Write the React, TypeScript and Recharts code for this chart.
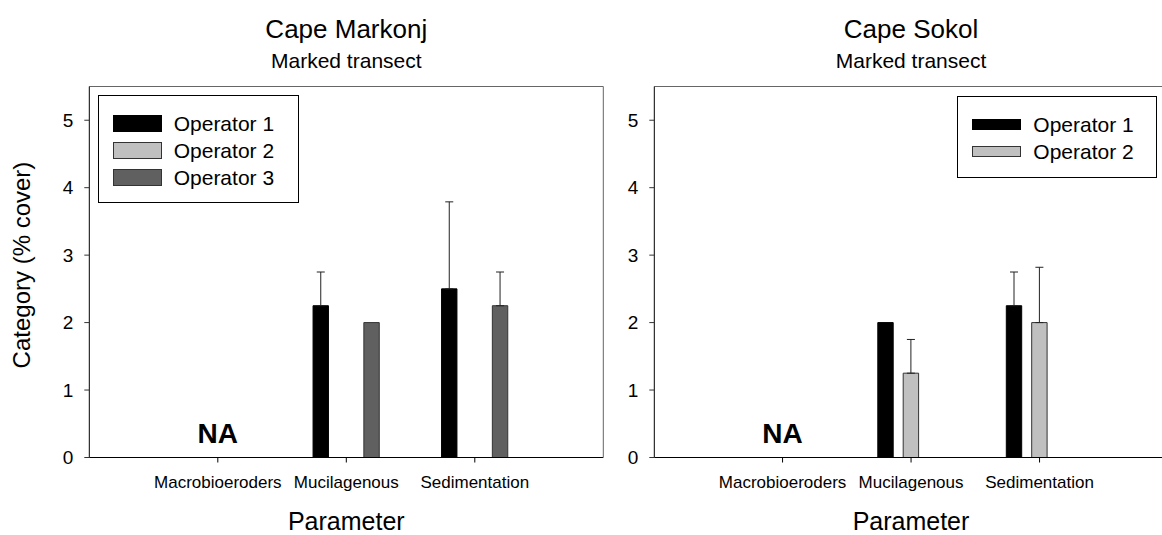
import React from "react";
import { Bar, BarChart, ErrorBar, Legend, ReferenceDot, XAxis, YAxis } from "recharts";

const categories = ["Macrobioeroders", "Mucilagenous", "Sedimentation"];
const yTicks = [0, 1, 2, 3, 4, 5];

// Cape Markonj (null = no bar / no error bar)
const markonjOp1 = [null, 2.25, 2.5];
const markonjOp1Err = [null, 0.5, 1.29];
const markonjOp2 = [null, null, null];
const markonjOp2Err = [null, null, null];
const markonjOp3 = [null, 2.0, 2.25];
const markonjOp3Err = [null, null, 0.5];

// Cape Sokol
const sokolOp1 = [null, 2.0, 2.25];
const sokolOp1Err = [null, null, 0.5];
const sokolOp2 = [null, 1.25, 2.0];
const sokolOp2Err = [null, 0.5, 0.82];
const sokolOp3 = [null, null, null];
const sokolOp3Err = [null, null, null];

const FONT = '"Liberation Sans", Arial, sans-serif';

type Num = number | null;

function buildRows(o1: Num[], e1: Num[], o2: Num[], e2: Num[], o3: Num[], e3: Num[]) {
  const err = (v: Num) => (v == null ? null : [0, v]);
  return categories.map((name, i) => ({
    name,
    op1: o1[i],
    op2: o2[i],
    op3: o3[i],
    op1Err: err(e1[i]),
    op2Err: err(e2[i]),
    op3Err: err(e3[i]),
  }));
}

const markonjData = buildRows(markonjOp1, markonjOp1Err, markonjOp2, markonjOp2Err, markonjOp3, markonjOp3Err);
const sokolData = buildRows(sokolOp1, sokolOp1Err, sokolOp2, sokolOp2Err, sokolOp3, sokolOp3Err);

const SERIES = [
  { key: "op1", name: "Operator 1", fill: "#000000", stroke: "#000000" },
  { key: "op2", name: "Operator 2", fill: "#c0c0c0", stroke: "#333333" },
  { key: "op3", name: "Operator 3", fill: "#606060", stroke: "#333333" },
];

function BoxLegend({ payload, swatchHeight }: any) {
  return (
    <div style={{ border: "1px solid #000", background: "#fff", padding: "14px 0 0 14px", boxSizing: "border-box", height: "100%" }}>
      {(payload || []).map((p: any) => {
        const s = SERIES.find((x) => x.name === p.value);
        return (
          <div key={p.value} style={{ display: "flex", alignItems: "center", height: 27 }}>
            <div
              style={{
                width: 49,
                height: swatchHeight,
                boxSizing: "border-box",
                background: s?.fill,
                border: `1px solid ${s?.stroke}`,
                marginRight: 12,
              }}
            />
            <span style={{ fontSize: 21, lineHeight: "27px", color: "#000" }}>{p.value}</span>
          </div>
        );
      })}
    </div>
  );
}

type PanelProps = {
  data: any[];
  width: number;
  yWidth: number;
  margin: { top: number; right: number; bottom: number; left: number };
  pad: number;
  legendKeys: string[];
  legendBox: { left: number; top: number; width: number; height: number };
  swatchHeight: number;
};

function Panel({ data, width, yWidth, margin, pad, legendKeys, legendBox, swatchHeight }: PanelProps) {
  return (
    <BarChart width={width} height={535} data={data} margin={margin} barSize={15.4} barGap={10}>
      <XAxis
        dataKey="name"
        padding={{ left: pad, right: pad }}
        height={40}
        tickSize={5}
        tickMargin={13}
        axisLine={{ stroke: "#000" }}
        tickLine={{ stroke: "#000" }}
        tick={{ fontSize: 17, fill: "#000" }}
        interval={0}
      />
      <XAxis xAxisId="top" orientation="top" dataKey="name" height={1} tick={false} tickLine={false} axisLine={{ stroke: "#666" }} />
      <YAxis
        domain={[0, 5.5]}
        ticks={yTicks}
        width={yWidth}
        tickSize={5}
        tickMargin={11}
        axisLine={{ stroke: "#000" }}
        tickLine={{ stroke: "#333" }}
        tick={{ fontSize: 19, fill: "#000" }}
        allowDataOverflow
      />
      <YAxis yAxisId="right" orientation="right" domain={[0, 5.5]} width={1} tick={false} tickLine={false} axisLine={{ stroke: "#666" }} />
      <Legend
        layout="vertical"
        align="center"
        verticalAlign="middle"
        wrapperStyle={{ ...legendBox }}
        content={(props: any) => (
          <BoxLegend payload={(props.payload || []).filter((p: any) => legendKeys.includes(p.dataKey))} swatchHeight={swatchHeight} />
        )}
      />
      {SERIES.map((s) => (
        <Bar
          key={s.key}
          dataKey={s.key}
          name={s.name}
          fill={s.fill}
          stroke={s.stroke}
          strokeWidth={1}
          isAnimationActive={false}
          legendType={legendKeys.includes(s.key) ? "rect" : "none"}
        >
          <ErrorBar dataKey={`${s.key}Err`} direction="y" width={4} stroke="#222" strokeWidth={1} isAnimationActive={false} />
        </Bar>
      ))}
      <ReferenceDot
        x="Macrobioeroders"
        y={0}
        r={0}
        fill="none"
        stroke="none"
        label={{ value: "NA", position: "top", offset: 15, fontSize: 28, fontWeight: "bold", fill: "#000" }}
      />
    </BarChart>
  );
}

const textStyle: React.CSSProperties = { position: "absolute", textAlign: "center", lineHeight: 1, whiteSpace: "nowrap", color: "#000" };

function Titles({ cx, title }: { cx: number; title: string }) {
  return (
    <>
      <div style={{ ...textStyle, left: cx - 150, width: 300, top: 16, fontSize: 26 }}>{title}</div>
      <div style={{ ...textStyle, left: cx - 150, width: 300, top: 50, fontSize: 21 }}>Marked transect</div>
      <div style={{ ...textStyle, left: cx - 150, width: 300, top: 509, fontSize: 25 }}>Parameter</div>
    </>
  );
}

export default function App() {
  return (
    <div
      style={{
        position: "absolute",
        left: 0,
        top: 0,
        width: 1162,
        height: 535,
        overflow: "hidden",
        background: "#fff",
        fontFamily: FONT,
      }}
    >
      <div style={{ position: "absolute", left: 0, top: 0 }}>
        <Panel
          data={markonjData}
          width={620}
          yWidth={60}
          margin={{ top: 85.5, right: 15.7, bottom: 37.5, left: 29.3 }}
          pad={64.25}
          legendKeys={["op1", "op2", "op3"]}
          legendBox={{ left: 97.7, top: 95, width: 201, height: 108 }}
          swatchHeight={16.7}
        />
      </div>
      <div style={{ position: "absolute", left: 600, top: 0 }}>
        <Panel
          data={sokolData}
          width={580}
          yWidth={40}
          margin={{ top: 85.5, right: 11.2, bottom: 37.5, left: 14.3 }}
          pad={64}
          legendKeys={["op1", "op2"]}
          legendBox={{ left: 357.3, top: 95.7, width: 200, height: 82 }}
          swatchHeight={11}
        />
      </div>
      <Titles cx={346.3} title="Cape Markonj" />
      <Titles cx={911} title="Cape Sokol" />
      <div
        style={{
          ...textStyle,
          left: 22 - 150,
          width: 300,
          top: 265 - 12,
          height: 24,
          fontSize: 24,
          lineHeight: "24px",
          transform: "rotate(-90deg)",
        }}
      >
        Category (% cover)
      </div>
    </div>
  );
}
